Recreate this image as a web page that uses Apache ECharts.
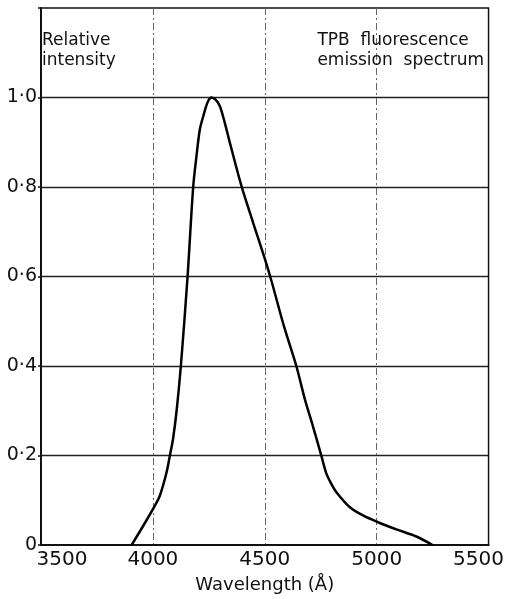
<!DOCTYPE html>
<html>
<head>
<meta charset="utf-8">
<script src="https://cdn.jsdelivr.net/npm/echarts@6/dist/echarts.min.js"></script>
<style>
html,body{margin:0;padding:0;background:#fff;}
#chart{width:507px;height:599px;}
</style>
</head>
<body>
<div id="chart"></div>
<script>
// Wavelength (Å) and relative intensity
const wavelength = [3905, 3957, 4009, 4031, 4061, 4076, 4090, 4106, 4125, 4155, 4180, 4195, 4210, 4225, 4245, 4262, 4280, 4299, 4321, 4344, 4396, 4448, 4500, 4530, 4585, 4641, 4679, 4716, 4753, 4775, 4798, 4820, 4879, 4939, 5001, 5088, 5177, 5250];
const intensity  = [0,    0.043, 0.088, 0.11, 0.162, 0.2, 0.237, 0.3,  0.4,  0.6,  0.8,  0.87, 0.929, 0.958, 0.99, 1.0,  0.995, 0.981, 0.944, 0.899, 0.802, 0.72, 0.64, 0.59, 0.49, 0.4, 0.326, 0.264, 0.199, 0.16, 0.136, 0.118, 0.085, 0.066, 0.052, 0.035, 0.019, 0];
const xTickValues = [3500, 4000, 4500, 5000, 5500];
const yTickValues = [0, 0.2, 0.4, 0.6, 0.8, 1.0];
const yTickLabels = ['0', '0·2', '0·4', '0·6', '0·8', '1·0'];
const yAxisTitle = ['Relative', 'intensity'];
const chartTitle = ['TPB  fluorescence', 'emission  spectrum'];
const xAxisTitle = 'Wavelength (Å)';

const FONT = 'DejaVu Sans';
const chart = echarts.init(document.getElementById('chart'), null, {renderer: 'canvas'});
const points = wavelength.map((w, i) => [w, intensity[i]]);

chart.setOption({
  animation: false,
  backgroundColor: '#fff',
  grid: {left: 41, right: 18, top: 8, bottom: 53, show: true, borderColor: '#111', borderWidth: 1.5, backgroundColor: 'transparent'},
  graphic: [
    {type: 'text', left: 42, top: 31, z: 10,
     style: {text: yAxisTitle.join('\n'), font: '17px "DejaVu Sans"', fill: '#111', lineHeight: 20, align: 'left'}},
    {type: 'text', right: 23, top: 31, z: 10,
     style: {text: chartTitle.join('\n'), font: '17px "DejaVu Sans"', fill: '#111', lineHeight: 20, align: 'right'}}
  ],
  xAxis: {
    type: 'value', min: 3500, max: 5500, interval: 500,
    name: xAxisTitle, nameLocation: 'middle', nameGap: 31,
    nameTextStyle: {fontFamily: FONT, fontSize: 18, color: '#111'},
    axisLine: {show: true, lineStyle: {color: '#111', width: 2}},
    axisTick: {show: false},
    axisLabel: {
      margin: 5, color: '#111', fontFamily: FONT, fontSize: 20,
      formatter: v => {
        if (v === xTickValues[0]) return '{first|' + v + '}';
        if (v === xTickValues[xTickValues.length - 1]) return '{last|' + v + '}';
        return String(v);
      },
      rich: {
        first: {fontFamily: FONT, fontSize: 20, color: '#111', padding: [0, 0, 0, 42]},
        last: {fontFamily: FONT, fontSize: 20, color: '#111', padding: [0, 20, 0, 0]}
      }
    },
    splitLine: {show: true, showMinLine: false, showMaxLine: false, lineStyle: {color: '#666', width: 1, type: [7, 3, 2, 3]}}
  },
  yAxis: {
    type: 'value', min: 0, max: 1.2, interval: 0.2,
    axisLine: {show: true, lineStyle: {color: '#111', width: 2}},
    axisTick: {show: true, length: 3, lineStyle: {color: '#111', width: 1.5}},
    axisLabel: {
      margin: 4, color: '#111', fontFamily: FONT, fontSize: 19,
      formatter: v => {
        const i = yTickValues.findIndex(t => Math.abs(t - v) < 1e-6);
        return i >= 0 ? yTickLabels[i] : '';
      }
    },
    splitLine: {show: true, showMinLine: false, showMaxLine: false, lineStyle: {color: '#222', width: 1.3}}
  },
  series: [{
    type: 'line', data: points, showSymbol: false, smooth: 0.3,
    lineStyle: {color: '#000', width: 2.5}
  }]
});
</script>
</body>
</html>
